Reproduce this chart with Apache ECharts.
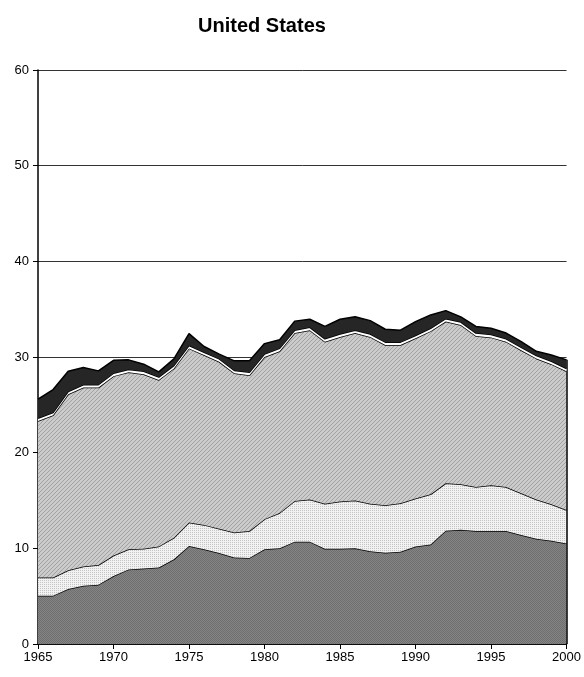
<!DOCTYPE html>
<html>
<head>
<meta charset="utf-8">
<title>United States</title>
<script src="https://cdn.jsdelivr.net/npm/echarts@6/dist/echarts.min.js"></script>
<style>
  html, body { margin: 0; padding: 0; background: #fff; }
  #chart { width: 584px; height: 677px; }
</style>
</head>
<body>
<div id="chart"></div>
<script>
// Years on the horizontal axis
const years = [];
for (let y = 1965; y <= 2000; y++) years.push(String(y));

// Stacked layers, bottom to top
const layerA = [5.05, 5.05, 5.75, 6.1, 6.2, 7.1, 7.8, 7.9, 8.0, 8.85,
  10.25, 9.9, 9.5, 9.05, 9.0, 9.9, 10.0, 10.7, 10.7, 9.95,
  9.95, 10.0, 9.7, 9.55, 9.65, 10.2, 10.4, 11.85, 11.95, 11.8,
  11.8, 11.8, 11.4, 11.0, 10.8, 10.5];
const layerB = [1.9, 1.9, 1.95, 2.0, 2.05, 2.15, 2.1, 2.05, 2.2, 2.25,
  2.45, 2.55, 2.55, 2.6, 2.8, 3.15, 3.7, 4.25, 4.4, 4.7,
  4.95, 5.0, 4.95, 4.95, 5.05, 5.0, 5.25, 4.95, 4.75, 4.6,
  4.8, 4.6, 4.35, 4.1, 3.8, 3.5];
const layerC = [16.35, 16.95, 18.4, 18.7, 18.55, 18.75, 18.5, 18.25, 17.4, 17.7,
  18.2, 17.75, 17.45, 16.65, 16.3, 16.95, 16.9, 17.55, 17.7, 16.95,
  17.2, 17.5, 17.45, 16.75, 16.55, 16.75, 17.05, 16.9, 16.65, 15.8,
  15.45, 15.2, 14.95, 14.75, 14.65, 14.5];
const layerD = [0.3, 0.3, 0.3, 0.3, 0.3, 0.3, 0.3, 0.3, 0.3, 0.3,
  0.3, 0.3, 0.3, 0.3, 0.3, 0.3, 0.3, 0.3, 0.3, 0.3,
  0.3, 0.3, 0.3, 0.3, 0.3, 0.3, 0.3, 0.3, 0.3, 0.3,
  0.3, 0.3, 0.3, 0.3, 0.3, 0.3];
const layerE = [2.0, 2.4, 2.1, 1.8, 1.45, 1.35, 1.0, 0.75, 0.55, 0.7,
  1.25, 0.6, 0.5, 1.0, 1.2, 1.1, 0.9, 0.95, 0.85, 1.3,
  1.55, 1.4, 1.4, 1.35, 1.25, 1.45, 1.4, 0.85, 0.55, 0.7,
  0.65, 0.6, 0.6, 0.45, 0.65, 0.9];

const yTicks = [0, 10, 20, 30, 40, 50, 60];

// Small repeating fill textures
function pattern(size, paint) {
  const c = document.createElement('canvas');
  c.width = size; c.height = size;
  const g = c.getContext('2d');
  paint(g);
  return { image: c, repeat: 'repeat' };
}
const fillA = pattern(2, g => {
  g.fillStyle = '#858585'; g.fillRect(0, 0, 2, 2);
  g.fillStyle = '#6e6e6e'; g.fillRect(0, 0, 1, 1); g.fillRect(1, 1, 1, 1);
});
const fillB = pattern(2, g => {
  g.fillStyle = '#f2f2f2'; g.fillRect(0, 0, 2, 2);
  g.fillStyle = '#c4c4c4'; g.fillRect(0, 0, 1, 1);
});
const fillC = pattern(4, g => {
  g.fillStyle = '#cbcbcb'; g.fillRect(0, 0, 4, 4);
  g.fillStyle = '#a2a2a2';
  for (let i = 0; i < 4; i++) g.fillRect(i, 3 - i, 1, 1);
});

const layers = [
  { name: 'A', data: layerA, fill: fillA },
  { name: 'B', data: layerB, fill: fillB },
  { name: 'C', data: layerC, fill: fillC },
  { name: 'D', data: layerD, fill: '#ffffff' },
  { name: 'E', data: layerE, fill: '#262626' }
];

const last = years.length - 1;
const total = layers.reduce((s, l) => s + l.data[last], 0);

const series = layers.map((l, i) => {
  const s = {
    name: l.name,
    type: 'line',
    stack: 'all',
    data: l.data,
    symbol: 'none',
    smooth: false,
    lineStyle: { color: '#000', width: 1.5 },
    areaStyle: { color: l.fill, opacity: 1 },
    z: 2 + i
  };
  if (i === layers.length - 1) {
    // right-hand edge of the stacked block
    s.markLine = {
      silent: true,
      symbol: 'none',
      label: { show: false },
      lineStyle: { color: '#000', width: 1.5, type: 'solid' },
      data: [[{ coord: [years[last], 0] }, { coord: [years[last], total] }]]
    };
  }
  return s;
});

const font = 'Liberation Sans, Arial, sans-serif';
const chart = echarts.init(document.getElementById('chart'), null, { renderer: 'canvas' });
chart.setOption({
  animation: false,
  backgroundColor: '#fff',
  title: {
    text: 'United States',
    left: 257,
    top: 11,
    textAlign: 'center',
    textStyle: { fontFamily: font, fontWeight: 'bold', fontSize: 20, color: '#000' }
  },
  grid: { left: 38, right: 16, top: 70, bottom: 33, containLabel: false },
  xAxis: {
    type: 'category',
    data: years,
    boundaryGap: false,
    axisLine: { lineStyle: { color: '#000', width: 1.5 } },
    axisTick: { interval: 4, length: 5, lineStyle: { color: '#000' } },
    axisLabel: { interval: 4, color: '#000', fontSize: 13, fontFamily: font, margin: 7 },
    splitLine: { show: false }
  },
  yAxis: {
    type: 'value',
    min: yTicks[0],
    max: yTicks[yTicks.length - 1],
    interval: 10,
    axisLine: { show: true, lineStyle: { color: '#000', width: 1.5 } },
    axisTick: { show: true, length: 5, lineStyle: { color: '#000' } },
    axisLabel: { color: '#000', fontSize: 13, fontFamily: font, margin: 9 },
    splitLine: { show: true, lineStyle: { color: '#333', width: 1 } }
  },
  series: series
});
</script>
</body>
</html>
